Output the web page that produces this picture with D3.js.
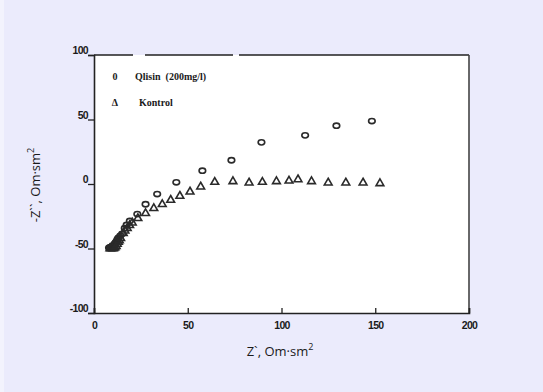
<!DOCTYPE html>
<html>
<head>
<meta charset="utf-8">
<script src="https://cdn.jsdelivr.net/npm/d3@7/dist/d3.min.js"></script>
<style>
  html, body { margin: 0; padding: 0; background: #ebebfc; }
  svg { display: block; }
</style>
</head>
<body>
<svg id="chart" width="543" height="392"></svg>
<script>
// Nyquist plot: impedance spectra, inhibitor vs. control
const seriesNames = ["Qlisin  (200mg/l)", "Kontrol"];

const xTicks = [0, 50, 100, 150, 200];
const yTicks = [-100, -50, 0, 50, 100];

// Z' (Om·sm²), -Z'' (Om·sm²)
const qlisin = [
  [8, -49.5], [8.5, -49.2], [9, -49], [9.5, -48.6], [10, -48], [10.5, -47.5], [11, -46.5],
  [11.5, -45.5], [12, -44.5], [12.5, -43], [13, -41.8], [14, -40.2], [15, -38.6],
  [16.4, -34.3], [17.4, -31.8], [19.1, -28.7], [23.1, -23.3], [27.5, -15.7],
  [33.7, -7.8], [43.9, 1.3], [57.8, 10.3], [73.3, 18.4], [89.3, 32.3],
  [112.6, 37.7], [129.3, 45.2], [148.2, 48.8]
];

const kontrol = [
  [8.5, -50], [9.2, -50], [10, -50], [10.6, -49.8], [11.2, -49.2], [11.8, -48.2],
  [12.4, -46.5], [13, -45], [13.5, -43.8],
  [14.2, -42], [15.6, -38.2], [16.5, -36.2], [17.7, -34.3], [19, -32],
  [20.4, -30], [23.4, -26.6], [27.5, -22.7], [31.9, -18.8], [36.4, -15.7],
  [40.9, -12.4], [45.8, -9.3], [51.2, -6], [56.9, -2.1], [64.4, 1.5],
  [74.1, 2], [82.7, 1], [89.8, 1.5], [97.3, 2], [104, 2.5], [108.8, 3.5],
  [116, 2], [124.9, 1], [134.3, 1], [143.5, 1], [152.5, 0.5]
];

const svg = d3.select("#chart");
const m = { left: 94, top: 55, right: 469, bottom: 313 };

const x = d3.scaleLinear().domain([0, 200]).range([m.left, m.right]);
const y = d3.scaleLinear().domain([-100, 100]).range([m.bottom, m.top]);

const ink = "#222";
const tickFont = "Liberation Sans, Arial, sans-serif";

// faint lighter strip along the left edge of the page
svg.append("rect").attr("x", 0).attr("y", 0).attr("width", 4).attr("height", 392).attr("fill", "#f3f3fd");

// plotting area
svg.append("rect")
  .attr("x", m.left).attr("y", m.top)
  .attr("width", m.right - m.left).attr("height", m.bottom - m.top)
  .attr("fill", "#ffffff");

// frame: top and right edges
svg.append("line")
  .attr("x1", m.left).attr("x2", m.right)
  .attr("y1", m.top).attr("y2", m.top)
  .attr("stroke", ink).attr("stroke-width", 1.6)
  .attr("stroke-dasharray", "39 12 88 6 300");
svg.append("line")
  .attr("x1", m.right).attr("x2", m.right)
  .attr("y1", m.top).attr("y2", m.bottom)
  .attr("stroke", "#444").attr("stroke-width", 1.6);

// x axis, ticks pointing inward
const xAxis = svg.append("g").attr("transform", `translate(0,${m.bottom})`);
xAxis.call(d3.axisBottom(x).tickValues(d3.range(0, 201, 10)).tickSize(-3).tickFormat(""))
  .call(g => g.select(".domain").remove());
xAxis.call(d3.axisBottom(x).tickValues(xTicks).tickSize(-5).tickPadding(9).tickFormat(d => String(d)))
  .call(g => g.select(".domain").attr("stroke", ink).attr("stroke-width", 1.6));
xAxis.selectAll("line").attr("stroke", ink).attr("stroke-width", 1.3);
xAxis.selectAll("text")
  .attr("fill", "#1a1a1a").attr("font-family", tickFont)
  .attr("font-size", 10.5).attr("font-weight", "bold").attr("letter-spacing", "-0.7");

// y axis, ticks pointing outward
const yAxis = svg.append("g").attr("transform", `translate(${m.left},0)`);
yAxis.call(d3.axisLeft(y).tickValues(d3.range(-100, 101, 10)).tickSize(3).tickFormat(""))
  .call(g => g.select(".domain").remove());
yAxis.call(d3.axisLeft(y).tickValues(yTicks).tickSize(6).tickPadding(0).tickFormat(d => String(d)))
  .call(g => g.select(".domain").attr("stroke", ink).attr("stroke-width", 1.6));
yAxis.selectAll("line").attr("stroke", ink).attr("stroke-width", 1.3);
yAxis.selectAll("text")
  .attr("fill", "#1a1a1a").attr("font-family", tickFont)
  .attr("font-size", 10.5).attr("font-weight", "bold").attr("letter-spacing", "-0.7")
  .attr("dy", "-0.1em");

// axis titles
const xt = svg.append("text")
  .attr("x", 280).attr("y", 356)
  .attr("text-anchor", "middle")
  .attr("font-family", "Open Sans, DejaVu Sans, sans-serif")
  .attr("font-size", 13).attr("fill", "#1a1a1a");
xt.append("tspan").text("Z`, Om·sm");
xt.append("tspan").attr("dy", -6).attr("font-size", 9).text("2");

const yt = svg.append("text")
  .attr("transform", "translate(40,185) rotate(-90)")
  .attr("text-anchor", "middle")
  .attr("font-family", "Open Sans, DejaVu Sans, sans-serif")
  .attr("font-size", 13).attr("fill", "#1a1a1a");
yt.append("tspan").text("-Z``, Om·sm");
yt.append("tspan").attr("dy", -6).attr("font-size", 9).text("2");

// markers
const plot = svg.append("g");

plot.selectAll("ellipse.q")
  .data(qlisin).join("ellipse")
  .attr("class", "q")
  .attr("cx", d => x(d[0])).attr("cy", d => y(d[1]))
  .attr("rx", 3.3).attr("ry", 2.6)
  .attr("fill", "none").attr("stroke", "#2a2a2a").attr("stroke-width", 1.6);

const tri = d3.symbol().type(d3.symbolTriangle).size(26);
plot.selectAll("path.k")
  .data(kontrol).join("path")
  .attr("class", "k")
  .attr("d", tri)
  .attr("transform", d => `translate(${x(d[0])},${y(d[1])})`)
  .attr("fill", "none").attr("stroke", "#2a2a2a").attr("stroke-width", 1.6);

// legend
const legend = svg.append("g")
  .attr("font-family", "Liberation Serif, Times New Roman, serif")
  .attr("font-weight", "bold").attr("font-size", 10).attr("fill", "#1a1a1a");
const legendGlyphs = ["0", "\u0394"];
seriesNames.forEach((name, i) => {
  const ly = 80 + i * 26;
  legend.append("text").attr("x", 115).attr("y", ly).attr("text-anchor", "middle").text(legendGlyphs[i]);
  legend.append("text").attr("x", i === 0 ? 135 : 139).attr("y", ly).attr("xml:space", "preserve").text(name);
});
</script>
</body>
</html>
